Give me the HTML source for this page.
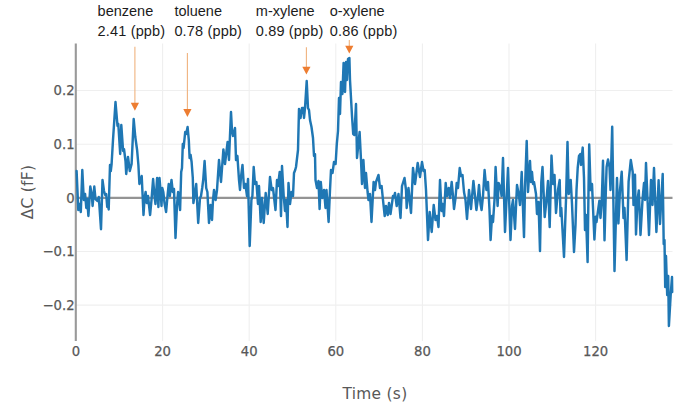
<!DOCTYPE html>
<html lang="en">
<head>
<meta charset="utf-8">
<title>Chromatogram</title>
<style>
html,body{margin:0;padding:0;background:#fff;}
body{width:684px;height:406px;overflow:hidden;position:relative;}
svg{position:absolute;left:0;top:0;display:block;}
.tick text{font-family:"DejaVu Sans","Liberation Sans",sans-serif;font-size:13.2px;fill:#585858;stroke:#585858;stroke-width:0.25px;}
.title{font-family:"DejaVu Sans","Liberation Sans",sans-serif;font-size:15.4px;letter-spacing:0.3px;fill:#585858;}
.ann{position:absolute;font-family:"Liberation Sans",sans-serif;font-size:14.5px;line-height:20.7px;color:#1c1c1c;white-space:nowrap;}
.ann span{letter-spacing:0.16px;}
</style>
</head>
<body>
<svg width="684" height="406" viewBox="0 0 684 406">
<rect width="684" height="406" fill="#fff"/>
<g stroke="#efefef" stroke-width="1.1"><line x1="162.6" y1="43.5" x2="162.6" y2="341.0"/><line x1="249.2" y1="43.5" x2="249.2" y2="341.0"/><line x1="335.8" y1="43.5" x2="335.8" y2="341.0"/><line x1="422.4" y1="43.5" x2="422.4" y2="341.0"/><line x1="509.0" y1="43.5" x2="509.0" y2="341.0"/><line x1="595.6" y1="43.5" x2="595.6" y2="341.0"/><line x1="76.0" y1="90.5" x2="672.5" y2="90.5"/><line x1="76.0" y1="144.2" x2="672.5" y2="144.2"/><line x1="76.0" y1="251.5" x2="672.5" y2="251.5"/><line x1="76.0" y1="305.1" x2="672.5" y2="305.1"/></g>
<line x1="76.0" y1="197.85" x2="672.5" y2="197.85" stroke="#949494" stroke-width="2.1"/>
<line x1="75.8" y1="43.5" x2="75.8" y2="341.0" stroke="#999" stroke-width="2.1"/>
<polyline fill="none" stroke="#1f77b4" stroke-width="2.45" stroke-linejoin="round" stroke-linecap="round" points="76.6,171.0 78.3,210.0 79.6,204.0 80.8,212.0 82.3,170.0 83.8,200.0 85.1,194.0 86.3,208.0 87.2,199.0 88.4,216.0 90.3,186.5 91.8,195.0 92.6,206.0 94.3,186.5 95.5,199.0 97.6,201.0 98.8,197.0 101.0,229.2 102.5,180.0 104.0,191.0 105.2,195.0 106.2,194.0 107.2,207.0 107.9,201.0 108.7,209.5 110.0,165.0 110.8,171.0 111.6,164.0 113.0,140.0 115.5,102.0 117.5,126.0 118.3,124.0 120.2,154.0 121.3,125.0 123.1,151.0 124.0,149.0 125.5,161.0 126.2,174.0 128.0,157.0 129.8,171.0 131.6,164.0 133.7,119.0 135.3,137.0 137.1,150.0 138.4,165.0 139.4,184.0 140.2,181.0 141.7,176.0 142.6,195.0 143.5,215.0 144.6,198.0 145.6,192.0 146.8,203.0 148.0,196.0 150.1,215.0 151.5,200.0 153.1,179.0 154.5,196.0 155.5,204.0 157.1,178.0 158.4,207.0 159.5,178.0 160.5,190.0 161.5,206.0 162.3,188.0 163.3,192.0 164.5,203.0 166.1,212.0 167.5,196.0 168.7,184.0 169.8,196.0 171.5,180.0 172.8,192.0 174.0,189.0 175.5,238.0 177.0,205.0 178.1,192.0 180.1,210.0 181.2,172.0 182.0,168.0 182.8,144.0 183.6,148.0 185.2,132.0 186.2,134.0 187.6,127.0 188.8,140.0 189.6,158.0 190.6,155.0 191.6,162.0 192.8,178.0 193.4,203.0 194.5,196.0 196.2,184.0 198.2,223.0 200.0,198.0 201.0,196.0 202.2,188.0 203.2,180.0 204.6,161.0 206.2,188.0 207.4,192.0 209.0,223.0 210.5,205.0 212.0,220.0 213.0,200.0 214.0,190.0 215.6,200.0 217.0,190.0 219.0,160.0 221.0,182.0 223.4,149.4 225.0,164.0 226.4,152.0 227.6,142.0 229.0,160.0 229.8,140.0 231.0,112.0 232.0,131.0 233.0,136.0 234.0,132.0 235.0,128.0 236.0,160.0 237.4,156.0 239.0,180.0 240.0,190.0 241.0,177.0 242.5,165.0 244.0,188.0 245.4,184.0 247.0,196.0 248.0,179.0 249.7,246.0 251.4,200.0 252.4,196.0 253.7,167.0 255.0,184.0 256.4,182.0 258.0,204.0 259.0,186.0 260.7,222.0 262.0,198.0 263.7,223.0 265.7,193.0 267.7,214.0 270.0,177.0 271.7,190.0 273.0,188.0 275.5,210.0 277.0,180.0 278.0,186.0 279.7,172.0 281.0,216.0 282.0,166.0 283.7,196.0 285.0,211.0 286.0,200.0 287.5,227.0 288.5,183.0 290.0,204.0 291.5,192.0 293.0,196.0 294.0,173.0 295.2,170.0 296.0,167.0 298.0,150.0 299.0,109.0 300.5,118.0 302.0,108.0 303.4,108.0 304.0,118.0 305.0,108.0 306.7,81.0 308.0,108.0 309.0,110.0 310.0,120.0 311.5,127.0 313.0,138.0 314.0,156.0 315.0,154.0 315.5,180.0 317.0,188.0 318.5,181.0 319.6,209.0 320.8,182.0 322.2,198.0 324.0,190.0 325.5,208.0 326.5,190.0 328.6,222.0 330.0,190.0 331.0,170.0 332.5,173.0 334.0,162.0 335.6,164.0 336.8,144.0 338.0,131.0 339.0,98.0 340.0,114.0 341.0,82.0 342.4,94.0 343.6,63.0 345.0,92.0 346.0,62.0 347.0,80.0 348.0,59.0 349.4,58.0 350.0,80.0 352.0,116.0 353.2,134.0 354.4,135.0 356.0,104.0 357.0,158.0 359.6,132.0 361.0,160.0 362.0,184.0 363.4,160.0 365.0,188.0 366.0,173.0 367.6,192.0 368.5,200.0 370.0,194.0 371.5,222.0 373.6,182.0 375.0,190.0 376.0,182.0 378.5,175.0 380.0,188.0 381.6,186.0 383.0,200.0 384.7,216.0 386.0,206.0 387.7,215.0 389.0,203.0 390.5,214.0 393.0,196.0 394.0,197.0 395.0,193.0 396.7,206.0 398.5,194.0 400.5,218.0 402.0,186.0 404.5,178.0 406.0,190.0 406.7,208.0 408.5,188.0 411.0,213.0 413.0,168.0 415.0,184.0 417.7,163.0 420.0,177.0 422.0,162.0 423.5,171.0 424.7,170.0 426.0,190.0 428.0,240.0 429.7,212.0 431.7,232.0 433.7,205.0 435.5,220.0 437.0,216.0 438.5,227.0 440.0,180.0 441.5,211.0 442.7,204.0 444.0,216.0 445.7,183.0 447.0,196.0 448.7,188.0 450.0,198.0 451.7,182.0 453.0,196.0 454.0,209.0 455.5,198.0 456.7,183.0 458.0,188.0 459.7,168.0 461.0,176.0 462.5,175.0 464.0,192.0 465.5,200.0 467.0,219.0 469.0,190.0 471.0,209.0 473.4,181.0 475.0,196.0 476.4,210.0 477.7,200.0 479.0,185.0 480.5,204.0 481.6,210.0 483.0,196.0 484.6,170.0 486.4,190.0 488.0,182.0 489.5,210.0 490.6,240.0 492.0,216.0 493.0,222.0 494.5,200.0 495.6,167.0 497.6,206.0 498.6,183.0 500.6,188.0 501.6,196.0 503.0,158.0 505.0,232.0 506.5,200.0 508.0,168.0 510.5,240.0 512.0,206.0 513.0,200.0 515.0,229.0 517.0,185.0 519.0,196.0 520.0,205.0 521.7,172.0 524.0,237.0 525.0,188.0 526.7,141.0 528.0,192.0 530.0,161.0 531.0,182.0 532.0,172.0 533.0,184.0 534.0,182.0 536.0,194.0 537.0,214.0 538.5,202.0 540.0,251.0 541.3,182.0 542.5,167.0 544.7,217.0 546.5,200.0 548.0,181.0 549.7,227.0 551.5,155.6 553.0,184.0 554.5,175.0 556.0,213.0 558.0,190.0 559.7,180.0 560.5,216.0 561.3,208.0 564.0,257.0 566.0,200.0 567.5,142.0 568.7,194.0 570.7,180.0 572.0,204.0 574.0,252.0 575.5,225.0 576.5,190.0 577.7,168.0 579.0,156.0 580.4,154.0 581.0,165.0 582.7,147.6 584.0,178.0 585.0,230.0 586.0,215.0 587.6,262.0 588.5,190.0 589.2,144.5 590.6,190.0 592.0,184.0 594.4,239.5 595.7,216.8 596.5,222.0 599.4,200.7 600.5,218.0 601.8,200.0 603.0,160.8 604.5,240.2 606.0,185.0 606.6,167.0 608.0,159.4 609.5,167.0 610.5,190.0 612.2,126.8 614.5,271.0 617.0,178.0 618.4,223.4 620.0,190.0 621.7,171.8 623.5,218.0 624.5,208.0 626.6,260.0 628.6,181.7 630.8,160.0 632.7,172.0 633.5,205.0 635.0,174.7 636.0,234.4 637.5,200.0 638.8,190.5 640.5,235.0 642.5,200.0 644.0,183.0 645.0,200.0 646.0,163.0 649.0,235.0 651.0,180.0 652.5,205.0 654.0,168.0 656.4,232.0 658.6,180.3 660.0,224.0 662.7,174.0 663.7,244.0 664.5,240.0 665.2,287.0 666.0,256.0 667.2,295.0 668.2,276.0 668.9,326.0 670.8,293.0 672.0,277.0 672.2,292.0"/>
<line x1="134.9" y1="46.8" x2="134.9" y2="103.8" stroke="#f0b37e" stroke-width="1.1"/><polygon points="130.8,102.8 139.0,102.8 134.9,110.8" fill="#ed7d31"/><line x1="187.4" y1="53.1" x2="187.4" y2="110" stroke="#f0b37e" stroke-width="1.1"/><polygon points="183.3,109 191.5,109 187.4,117" fill="#ed7d31"/><line x1="306.4" y1="47.3" x2="306.4" y2="67.8" stroke="#f0b37e" stroke-width="1.1"/><polygon points="302.29999999999995,66.8 310.5,66.8 306.4,74.4" fill="#ed7d31"/><line x1="349.3" y1="39.9" x2="349.3" y2="46.8" stroke="#f0b37e" stroke-width="1.1"/><polygon points="345.2,45.8 353.40000000000003,45.8 349.3,53.4" fill="#ed7d31"/>
<g class="tick"><text x="76.0" y="355.8" text-anchor="middle">0</text><text x="162.6" y="355.8" text-anchor="middle">20</text><text x="249.2" y="355.8" text-anchor="middle">40</text><text x="335.8" y="355.8" text-anchor="middle">60</text><text x="422.4" y="355.8" text-anchor="middle">80</text><text x="509.0" y="355.8" text-anchor="middle">100</text><text x="595.6" y="355.8" text-anchor="middle">120</text><text x="74.6" y="95.2" text-anchor="end">0.2</text><text x="74.6" y="148.8" text-anchor="end">0.1</text><text x="74.6" y="202.5" text-anchor="end">0</text><text x="74.6" y="256.2" text-anchor="end">−0.1</text><text x="74.6" y="309.8" text-anchor="end">−0.2</text></g>
<text class="title" x="375" y="399.4" text-anchor="middle">Time (s)</text>
<text class="title" transform="translate(33.2,192) rotate(-90)" text-anchor="middle">ΔC (fF)</text>
</svg>
<div class="ann" style="left:97.6px;top:0.5px;">benzene<br><span>2.41 (ppb)</span></div>
<div class="ann" style="left:174.4px;top:0.5px;">toluene<br><span>0.78 (ppb)</span></div>
<div class="ann" style="left:255.8px;top:0.5px;">m-xylene<br><span>0.89 (ppb)</span></div>
<div class="ann" style="left:329.8px;top:0.5px;">o-xylene<br><span>0.86 (ppb)</span></div>
</body>
</html>
